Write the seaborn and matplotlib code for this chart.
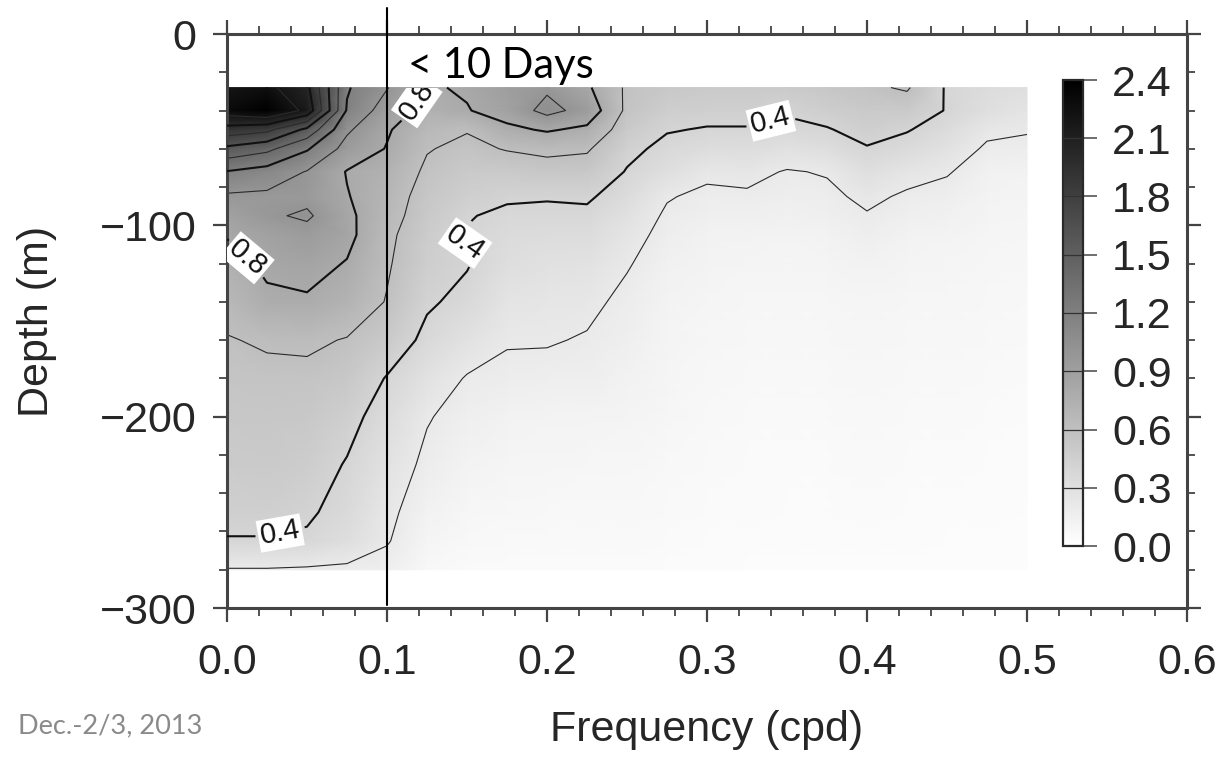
import numpy as np
import matplotlib
matplotlib.use("Agg")
import matplotlib.pyplot as plt
import seaborn as sns
from matplotlib.ticker import MultipleLocator, FixedLocator, FixedFormatter
from matplotlib.transforms import Bbox, TransformedBbox

# ---------------- data ----------------
freq = [0.0, 0.025, 0.05, 0.075, 0.1, 0.125, 0.15, 0.175, 0.2, 0.225, 0.25,
        0.275, 0.3, 0.325, 0.35, 0.375, 0.4, 0.425, 0.45, 0.475, 0.5]
depth = [-28, -40, -50, -60, -72, -85, -95, -105, -120, -140, -160, -180,
         -200, -225, -250, -265, -280]
energy = [
    [2.20, 2.25, 2.05, 1.22, 1.01, 0.78, 0.82, 0.90, 0.97, 0.83, 0.57, 0.52, 0.50, 0.50, 0.50, 0.53, 0.57, 0.62, 0.38, 0.33, 0.30],
    [2.30, 2.40, 2.15, 1.18, 0.90, 0.74, 0.79, 0.88, 1.06, 0.93, 0.56, 0.46, 0.45, 0.45, 0.42, 0.46, 0.50, 0.50, 0.39, 0.30, 0.26],
    [1.92, 1.85, 1.55, 1.03, 0.82, 0.66, 0.61, 0.76, 0.82, 0.76, 0.50, 0.41, 0.39, 0.39, 0.36, 0.39, 0.45, 0.41, 0.33, 0.23, 0.21],
    [1.55, 1.45, 1.22, 0.93, 0.79, 0.61, 0.56, 0.61, 0.64, 0.62, 0.44, 0.36, 0.32, 0.32, 0.29, 0.31, 0.39, 0.34, 0.28, 0.18, 0.17],
    [1.19, 1.12, 0.99, 0.79, 0.73, 0.57, 0.50, 0.50, 0.53, 0.52, 0.39, 0.30, 0.23, 0.24, 0.19, 0.21, 0.30, 0.25, 0.21, 0.14, 0.13],
    [0.97, 0.96, 0.95, 0.81, 0.69, 0.53, 0.45, 0.42, 0.41, 0.42, 0.33, 0.21, 0.17, 0.18, 0.16, 0.17, 0.23, 0.18, 0.16, 0.12, 0.11],
    [0.88, 0.97, 1.03, 0.84, 0.67, 0.51, 0.41, 0.37, 0.37, 0.37, 0.29, 0.18, 0.15, 0.15, 0.14, 0.15, 0.19, 0.15, 0.14, 0.11, 0.10],
    [0.81, 0.88, 0.93, 0.85, 0.64, 0.48, 0.39, 0.34, 0.33, 0.33, 0.25, 0.16, 0.13, 0.13, 0.12, 0.13, 0.16, 0.13, 0.12, 0.10, 0.09],
    [0.74, 0.83, 0.86, 0.79, 0.62, 0.46, 0.41, 0.31, 0.29, 0.28, 0.21, 0.14, 0.12, 0.11, 0.10, 0.11, 0.13, 0.11, 0.10, 0.09, 0.08],
    [0.66, 0.77, 0.78, 0.72, 0.59, 0.42, 0.36, 0.26, 0.24, 0.23, 0.17, 0.12, 0.10, 0.09, 0.09, 0.09, 0.10, 0.09, 0.09, 0.08, 0.07],
    [0.59, 0.62, 0.63, 0.59, 0.50, 0.36, 0.28, 0.21, 0.21, 0.19, 0.15, 0.11, 0.09, 0.08, 0.08, 0.08, 0.09, 0.08, 0.08, 0.07, 0.06],
    [0.55, 0.56, 0.56, 0.52, 0.39, 0.28, 0.19, 0.17, 0.16, 0.16, 0.13, 0.10, 0.08, 0.07, 0.07, 0.07, 0.08, 0.07, 0.07, 0.06, 0.05],
    [0.52, 0.53, 0.52, 0.45, 0.33, 0.21, 0.15, 0.13, 0.12, 0.12, 0.11, 0.09, 0.07, 0.06, 0.06, 0.06, 0.07, 0.06, 0.06, 0.05, 0.04],
    [0.49, 0.50, 0.47, 0.39, 0.28, 0.17, 0.12, 0.10, 0.10, 0.09, 0.09, 0.07, 0.06, 0.05, 0.05, 0.05, 0.06, 0.05, 0.05, 0.04, 0.04],
    [0.45, 0.45, 0.42, 0.35, 0.23, 0.13, 0.09, 0.08, 0.07, 0.07, 0.07, 0.06, 0.05, 0.05, 0.04, 0.04, 0.05, 0.04, 0.04, 0.04, 0.03],
    [0.39, 0.39, 0.38, 0.31, 0.21, 0.10, 0.07, 0.06, 0.06, 0.06, 0.06, 0.05, 0.04, 0.04, 0.04, 0.04, 0.04, 0.04, 0.03, 0.03, 0.03],
    [0.19, 0.19, 0.18, 0.17, 0.15, 0.07, 0.05, 0.05, 0.05, 0.05, 0.05, 0.04, 0.04, 0.03, 0.03, 0.03, 0.03, 0.03, 0.03, 0.03, 0.02],
]
thin_levels = [0.2, 0.6, 1.0, 1.4, 1.8, 2.2]
thick_levels = [0.4, 0.8, 1.2, 1.6, 2.0]
label_levels = [0.4, 0.8]
label_positions = [(0.016, -114), (0.114, -33), (0.146, -110), (0.035, -267), (0.339, -42)]
label_angles = [-40, 55, -35, 10, 14]
xticks = [0.0, 0.1, 0.2, 0.3, 0.4, 0.5, 0.6]
xtick_labels = ["0.0", "0.1", "0.2", "0.3", "0.4", "0.5", "0.6"]
yticks = [0, -100, -200, -300]
ytick_labels = ["0", "\u2212100", "\u2212200", "\u2212300"]
cbar_ticks = [0.0, 0.3, 0.6, 0.9, 1.2, 1.5, 1.8, 2.1, 2.4]
cbar_labels = ["0.0", "0.3", "0.6", "0.9", "1.2", "1.5", "1.8", "2.1", "2.4"]
cutoff_freq = 0.1

# ---------------- style ----------------
sns.set_theme(style="ticks")
plt.rcParams['font.family'] = ['Liberation Sans', 'DejaVu Sans']
plt.rcParams['axes.unicode_minus'] = True

W, H = 1228, 762
fig = plt.figure(figsize=(W / 100, H / 100), dpi=100)
fig.patch.set_facecolor('white')

ax = fig.add_axes([227 / W, 1 - 608 / H, 960 / W, 574 / H])
ax.set_facecolor('white')

F, D = np.meshgrid(freq, depth)
Z = np.array(energy)

mesh = ax.pcolormesh(F, D, Z, shading='gouraud', cmap='gray_r', vmin=0, vmax=2.4,
                     rasterized=True, zorder=1)
ax.contour(F, D, Z, levels=thin_levels, colors='#2a2a2a', linewidths=0.8, zorder=2)
cs = ax.contour(F, D, Z, levels=thick_levels, colors='#111111', linewidths=1.5, zorder=3)
texts = ax.clabel(cs, levels=label_levels, manual=label_positions, inline=True,
                  fmt='%.1f', fontsize=21, inline_spacing=10)
clipbox = TransformedBbox(Bbox([[min(freq), min(depth)], [max(freq), max(depth)]]), ax.transData)
for t, ang in zip(texts, label_angles):
    t.set_rotation(ang)
    t.set_bbox(dict(facecolor='white', edgecolor='none', pad=1.5))
    t.set_clip_box(clipbox)
    t.set_clip_on(True)
    t.set_zorder(5)

ax.set_xlim(0, 0.6)
ax.set_ylim(-300, 0)

ax.xaxis.set_major_locator(FixedLocator(xticks))
ax.xaxis.set_major_formatter(FixedFormatter(xtick_labels))
ax.yaxis.set_major_locator(FixedLocator(yticks))
ax.yaxis.set_major_formatter(FixedFormatter(ytick_labels))
ax.xaxis.set_minor_locator(MultipleLocator(0.02))
ax.yaxis.set_minor_locator(MultipleLocator(20))

for s in ax.spines.values():
    s.set_color('#444444')
    s.set_linewidth(2.2)
    s.set_visible(True)

ax.tick_params(which='both', direction='out', top=True, right=True,
               labeltop=False, labelright=False, color='#444444')
ax.tick_params(which='major', length=10, width=1.6)
ax.tick_params(which='minor', length=5.5, width=1.3)
ax.tick_params(axis='x', which='major', labelsize=31, pad=15)
ax.tick_params(axis='y', which='major', labelsize=31, pad=12)

ax.set_xlabel("Frequency (cpd)", fontsize=31, labelpad=20)
ax.set_ylabel("Depth (m)", fontsize=31, labelpad=31)

# vertical cutoff line (extends above the frame)
ax.plot([cutoff_freq, cutoff_freq], [13.6, -298.5], color='black', lw=1.5,
        clip_on=False, zorder=6)
ax.text(0.113, -23, "< 10 Days", fontsize=30, family=['Lato', 'DejaVu Sans'],
        color='black', va='baseline', ha='left', zorder=7)

# colour bar inside the frame
cax = fig.add_axes([1063 / W, 1 - 546 / H, 20 / W, 466 / H])
cb = fig.colorbar(mesh, cax=cax, ticks=cbar_ticks)
cb.ax.set_yticklabels(cbar_labels)
cb.outline.set_edgecolor('#2a2a2a')
cb.outline.set_linewidth(1.6)
cax.tick_params(length=10, width=1.2, color='#555555', labelsize=31, pad=11)
for v in cbar_ticks[1:-1]:
    cax.axhline(v, color='#333333', lw=0.9)

fig.text(18 / W, 1 - 733 / H, "Dec.-2/3, 2013", fontsize=19.5,
         family=['Lato', 'DejaVu Sans'], color='#8a8a8a', va='baseline', ha='left')

fig.savefig("out.png", dpi=100, facecolor='white')
